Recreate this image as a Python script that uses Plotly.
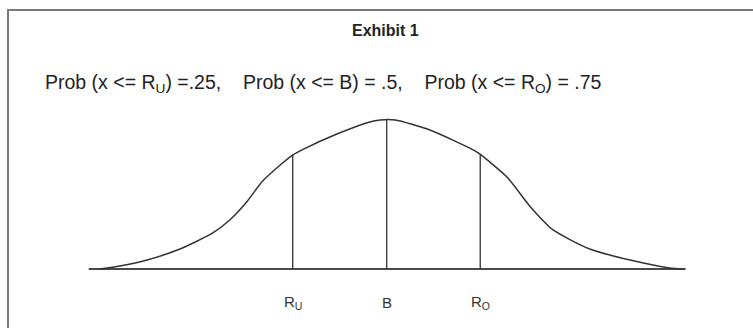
import plotly.graph_objects as go

# Bell-shaped distribution curve (x in quartile units around B, y relative density)
curve_x = [-3.05, -2.84, -2.55, -2.20, -1.85, -1.67, -1.49, -1.32, -1.13, -1.00, -0.90,
           -0.53, -0.18, -0.07, 0.09, 0.46, 0.92, 0.99, 1.28, 1.53, 1.77, 2.16, 2.59, 3.01, 3.16]
curve_y = [0.00, 0.02, 0.06, 0.134, 0.242, 0.329, 0.45, 0.59, 0.70, 0.765, 0.80,
           0.906, 0.987, 1.00, 1.00, 0.933, 0.80, 0.772, 0.617, 0.416, 0.262, 0.134, 0.06, 0.007, 0.00]

# Baseline extent
base_x = [-3.17, 3.18]

# Marker positions: R_U, B, R_O and the curve height at each
marker_x = [-1.0, 0.0, 0.995]
marker_top = [0.77, 1.0, 0.77]
marker_labels = ["R<sub>U</sub>", "B", "R<sub>O</sub>"]

title_text = "<b>Exhibit 1</b>"
GAP = "&nbsp;&nbsp;&nbsp; "
prob_text = ("Prob (x &lt;= R<sub>U</sub>) =.25," + GAP + "Prob (x &lt;= B) = .5," + GAP +
             "Prob (x &lt;= R<sub>O</sub>) = .75")

W, H = 753, 328
PX = 94.0      # pixels per x unit
PY = 149.0     # pixels per y unit
X0, Y0 = 386.7, 269.0
FONT = "Liberation Sans, Arial, sans-serif"

fig = go.Figure()

fig.add_trace(go.Scatter(x=base_x, y=[0, 0], mode="lines",
                         line=dict(color="#4a4a4a", width=2), hoverinfo="skip"))
for mx, mt in zip(marker_x, marker_top):
    fig.add_trace(go.Scatter(x=[mx, mx], y=[0, mt], mode="lines",
                             line=dict(color="#333333", width=1.3), hoverinfo="skip"))
fig.add_trace(go.Scatter(x=curve_x, y=curve_y, mode="lines",
                         line=dict(color="#333333", width=1.5, shape="spline", smoothing=0.6),
                         hoverinfo="skip"))

for mx, lab in zip(marker_x, marker_labels):
    fig.add_annotation(x=mx, y=(Y0 - 302) / PY, text=lab, showarrow=False,
                       font=dict(family=FONT, size=15, color="#333333"),
                       xanchor="center", yanchor="middle")

fig.add_annotation(x=385 / W, y=1 - 31 / H, xref="paper", yref="paper", text=title_text,
                   showarrow=False, xanchor="center", yanchor="middle",
                   font=dict(family=FONT, size=16, color="#222222"))
fig.add_annotation(x=43 / W, y=1 - 83 / H, xref="paper", yref="paper", text=prob_text,
                   showarrow=False, xanchor="left", yanchor="middle",
                   font=dict(family=FONT, size=19.5, color="#222222"))

# Outer frame
fig.add_shape(type="rect", xref="paper", yref="paper",
              x0=8 / W, x1=1.02, y0=-0.05, y1=1 - 10 / H,
              line=dict(color="#7a7a7a", width=2))

fig.update_layout(
    width=W, height=H, margin=dict(l=0, r=0, t=0, b=0),
    paper_bgcolor="white", plot_bgcolor="white", showlegend=False,
    xaxis=dict(range=[(0 - X0) / PX, (W - X0) / PX], visible=False, fixedrange=True),
    yaxis=dict(range=[(Y0 - H) / PY, Y0 / PY], visible=False, fixedrange=True),
)

fig.write_html("out.html")
